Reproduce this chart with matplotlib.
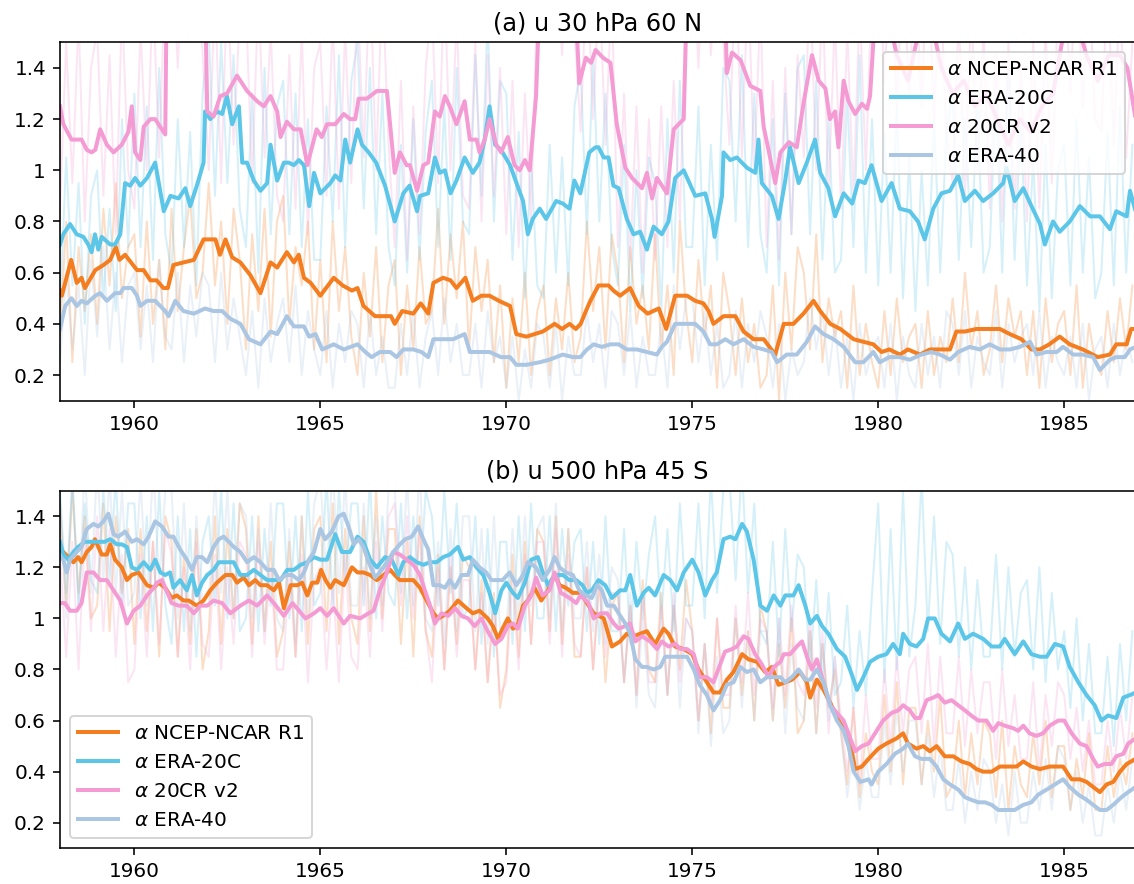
import numpy as np
import matplotlib
matplotlib.use('Agg')
import matplotlib.pyplot as plt
from matplotlib.ticker import StrMethodFormatter

# ---------------- smoothed series, (year, alpha)
a_ncep = [(1958.0, .53), (1958.05, .51), (1958.3, .65), (1958.45, .56), (1958.58, .58), (1958.67, .54),
          (1958.95, .61), (1959.17, .63), (1959.35, .65), (1959.5, .70), (1959.6, .65), (1959.75, .67),
          (1960.07, .61), (1960.25, .61), (1960.43, .57), (1960.6, .57), (1960.78, .54), (1960.9, .54),
          (1961.05, .63), (1961.32, .64), (1961.6, .65), (1961.86, .73), (1962.18, .73), (1962.3, .67),
          (1962.45, .73), (1962.63, .66), (1962.85, .64), (1963.12, .59), (1963.39, .52), (1963.66, .64),
          (1963.84, .62), (1964.1, .68), (1964.29, .64), (1964.42, .67), (1964.56, .58), (1964.74, .56),
          (1965.0, .51), (1965.36, .58), (1965.6, .55), (1965.85, .53), (1966.0, .54), (1966.16, .47),
          (1966.47, .43), (1966.9, .43), (1967.0, .40), (1967.2, .45), (1967.5, .44), (1967.7, .48),
          (1967.9, .44), (1968.04, .56), (1968.3, .58), (1968.5, .57), (1968.66, .54), (1968.9, .58),
          (1969.1, .49), (1969.33, .51), (1969.55, .51), (1969.8, .49), (1970.1, .47), (1970.27, .36),
          (1970.54, .35), (1970.98, .37), (1971.3, .40), (1971.5, .38), (1971.7, .40), (1971.87, .38),
          (1972.0, .40), (1972.14, .45), (1972.26, .49), (1972.48, .55), (1972.75, .55), (1972.88, .53),
          (1973.06, .51), (1973.33, .54), (1973.56, .47), (1973.8, .44), (1974.1, .46), (1974.3, .38),
          (1974.54, .51), (1974.86, .51), (1975.08, .49), (1975.3, .48), (1975.44, .45), (1975.57, .40),
          (1975.84, .43), (1976.16, .43), (1976.38, .37), (1976.65, .34), (1976.92, .34), (1977.23, .28),
          (1977.46, .40), (1977.72, .40), (1977.99, .44), (1978.26, .49), (1978.44, .45), (1978.71, .40),
          (1978.98, .38), (1979.34, .34), (1979.6, .33), (1979.87, .32), (1980.09, .29), (1980.3, .30),
          (1980.58, .28), (1980.8, .30), (1981.12, .28), (1981.39, .30), (1981.66, .30), (1981.93, .30),
          (1982.1, .37), (1982.33, .37), (1982.64, .38), (1983.0, .38), (1983.27, .38), (1983.54, .36),
          (1983.85, .34), (1984.12, .30), (1984.35, .30), (1984.6, .32), (1984.88, .35), (1985.15, .32),
          (1985.5, .30), (1985.9, .27), (1986.23, .28), (1986.4, .32), (1986.68, .32), (1986.8, .38),
          (1986.92, .38)]

a_era20c = [(1958.0, .71), (1958.09, .75), (1958.27, .79), (1958.45, .75), (1958.63, .74), (1958.76, .71),
            (1958.85, .68), (1958.94, .75), (1959.03, .69), (1959.12, .74), (1959.35, .71), (1959.48, .71),
            (1959.62, .75), (1959.75, .95), (1959.89, .94), (1960.02, .97), (1960.16, .94), (1960.34, .97),
            (1960.56, 1.03), (1960.79, .84), (1960.97, .90), (1961.19, .89), (1961.37, .93), (1961.5, .86),
            (1961.68, .94), (1961.86, 1.03), (1961.9, 1.23), (1962.04, 1.20), (1962.22, 1.23), (1962.36, 1.22),
            (1962.49, 1.29), (1962.63, 1.18), (1962.81, 1.25), (1962.9, 1.03), (1963.03, 1.03), (1963.21, .96),
            (1963.39, .92), (1963.57, .95), (1963.66, 1.10), (1963.84, .96), (1964.02, 1.03), (1964.15, 1.03),
            (1964.29, 1.02), (1964.42, 1.04), (1964.56, 1.02), (1964.7, .86), (1964.83, .99), (1965.0, .91),
            (1965.27, .95), (1965.4, .98), (1965.54, .96), (1965.67, 1.12), (1965.8, 1.03), (1966.0, 1.16),
            (1966.12, 1.10), (1966.3, 1.07), (1966.5, 1.03), (1966.74, .94), (1967.0, .80), (1967.23, .91),
            (1967.4, .94), (1967.6, .84), (1967.68, .90), (1967.9, .91), (1968.08, 1.05), (1968.21, .99),
            (1968.35, 1.00), (1968.5, .91), (1968.66, .96), (1968.88, 1.05), (1969.1, .99), (1969.28, 1.03),
            (1969.42, 1.12), (1969.55, 1.25), (1969.7, 1.10), (1969.86, 1.08), (1970.1, 1.02), (1970.3, .94),
            (1970.45, .88), (1970.58, .75), (1970.71, .81), (1970.9, .85), (1971.07, .81), (1971.34, .88),
            (1971.52, .87), (1971.7, .85), (1971.83, .96), (1971.99, .91), (1972.23, 1.07), (1972.4, 1.09),
            (1972.48, 1.09), (1972.62, 1.05), (1972.75, 1.05), (1972.88, .94), (1973.02, .93), (1973.24, .81),
            (1973.42, .75), (1973.6, .76), (1973.78, .69), (1973.96, .78), (1974.18, .75), (1974.36, .80),
            (1974.54, .97), (1974.77, 1.00), (1975.08, .90), (1975.35, .91), (1975.53, .81), (1975.6, .74),
            (1975.8, .90), (1975.84, 1.07), (1976.02, 1.04), (1976.2, 1.05), (1976.47, 1.01), (1976.7, .99),
            (1976.78, 1.12), (1976.87, .95), (1977.14, .90), (1977.32, .81), (1977.5, .96), (1977.63, 1.09),
            (1977.86, .95), (1978.08, 1.03), (1978.3, 1.12), (1978.44, .99), (1978.66, .93), (1978.84, .82),
            (1979.07, .91), (1979.3, .87), (1979.47, .96), (1979.64, .95), (1979.82, 1.02), (1980.09, .88),
            (1980.36, .95), (1980.58, .85), (1980.85, .84), (1981.07, .80), (1981.25, .73), (1981.48, .85),
            (1981.7, .91), (1981.93, .92), (1982.15, .98), (1982.33, .88), (1982.6, .92), (1982.82, .88),
            (1983.09, .91), (1983.36, .95), (1983.45, 1.01), (1983.67, .88), (1983.9, .93), (1984.12, .86),
            (1984.35, .79), (1984.48, .71), (1984.7, .80), (1984.88, .76), (1985.15, .80), (1985.42, .86),
            (1985.7, .82), (1985.96, .82), (1986.23, .77), (1986.4, .84), (1986.68, .82), (1986.77, .92),
            (1986.92, .84)]

a_20cr = [(1958.0, 1.25), (1958.09, 1.18), (1958.31, 1.12), (1958.58, 1.12), (1958.72, 1.08), (1958.85, 1.07),
          (1958.95, 1.08), (1959.08, 1.16), (1959.26, 1.10), (1959.44, 1.07), (1959.66, 1.10), (1959.84, 1.15),
          (1959.93, 1.25), (1960.02, 1.07), (1960.16, 1.04), (1960.25, 1.17), (1960.43, 1.20), (1960.56, 1.20),
          (1960.74, 1.16), (1960.83, 1.14), (1960.87, 1.70), (1961.2, 1.80), (1961.5, 1.75), (1961.9, 1.70),
          (1961.96, 1.23), (1962.13, 1.21), (1962.31, 1.29), (1962.49, 1.30), (1962.76, 1.37), (1963.03, 1.31),
          (1963.3, 1.27), (1963.48, 1.25), (1963.66, 1.29), (1963.84, 1.23), (1963.93, 1.13), (1964.1, 1.19),
          (1964.29, 1.16), (1964.47, 1.16), (1964.65, 1.02), (1964.9, 1.16), (1965.04, 1.13), (1965.18, 1.18),
          (1965.4, 1.18), (1965.63, 1.22), (1965.8, 1.20), (1965.94, 1.20), (1966.03, 1.28), (1966.25, 1.28),
          (1966.52, 1.31), (1966.79, 1.31), (1967.0, .99), (1967.14, 1.07), (1967.32, 1.02), (1967.41, 1.02),
          (1967.6, .92), (1967.77, 1.02), (1967.9, 1.03), (1968.08, 1.23), (1968.21, 1.21), (1968.35, 1.29),
          (1968.48, 1.25), (1968.66, 1.18), (1968.88, 1.27), (1969.02, 1.12), (1969.2, 1.12), (1969.28, 1.07),
          (1969.42, 1.12), (1969.55, 1.20), (1969.73, 1.10), (1969.86, 1.07), (1970.04, 1.13), (1970.22, 1.02),
          (1970.36, 1.00), (1970.5, 1.04), (1970.63, 1.00), (1970.8, 1.29), (1970.9, 1.70), (1971.3, 1.80),
          (1971.6, 1.70), (1971.88, 1.60), (1971.96, 1.34), (1972.14, 1.44), (1972.28, 1.42), (1972.4, 1.47),
          (1972.6, 1.44), (1972.8, 1.42), (1972.97, 1.18), (1973.2, 1.01), (1973.38, .97), (1973.65, .93),
          (1973.78, .99), (1973.92, .89), (1974.05, .97), (1974.32, .91), (1974.5, 1.16), (1974.77, 1.20),
          (1974.86, 1.70), (1975.2, 1.80), (1975.6, 1.70), (1975.89, 1.60), (1975.93, 1.38), (1976.07, 1.46),
          (1976.3, 1.43), (1976.56, 1.33), (1976.83, 1.31), (1976.92, 1.17), (1977.05, 1.08), (1977.23, .95),
          (1977.37, 1.07), (1977.6, 1.11), (1977.81, 1.09), (1978.0, 1.27), (1978.22, 1.45), (1978.4, 1.35),
          (1978.58, 1.32), (1978.7, 1.20), (1978.84, 1.23), (1978.93, 1.09), (1979.07, 1.35), (1979.2, 1.27),
          (1979.38, 1.22), (1979.56, 1.26), (1979.7, 1.24), (1979.78, 1.29), (1979.91, 1.60), (1980.2, 1.65),
          (1980.5, 1.45), (1980.8, 1.35), (1981.1, 1.55), (1981.4, 1.60), (1981.7, 1.40), (1982.0, 1.30),
          (1982.3, 1.35), (1982.6, 1.25), (1982.9, 1.30), (1983.2, 1.20), (1983.5, 1.10), (1983.8, 1.20),
          (1984.1, 1.15), (1984.4, 1.25), (1984.7, 1.30), (1985.0, 1.55), (1985.3, 1.60), (1985.6, 1.45),
          (1985.9, 1.35), (1986.2, 1.45), (1986.5, 1.45), (1986.7, 1.40), (1986.92, 1.20)]

a_era40 = [(1958.0, .38), (1958.14, .47), (1958.31, .50), (1958.45, .47), (1958.58, .49), (1958.72, .48),
           (1958.95, .51), (1959.08, .52), (1959.26, .49), (1959.48, .52), (1959.62, .52), (1959.71, .54),
           (1959.93, .54), (1960.07, .51), (1960.16, .47), (1960.34, .49), (1960.56, .49), (1960.83, .45),
           (1960.92, .43), (1961.1, .49), (1961.32, .45), (1961.6, .44), (1961.9, .46), (1962.13, .45),
           (1962.36, .45), (1962.58, .42), (1962.85, .40), (1963.08, .34), (1963.39, .32), (1963.66, .37),
           (1963.84, .36), (1964.1, .43), (1964.29, .39), (1964.56, .39), (1964.7, .35), (1964.87, .36),
           (1965.05, .30), (1965.36, .32), (1965.63, .30), (1966.0, .32), (1966.21, .29), (1966.38, .27),
           (1966.6, .29), (1966.88, .29), (1967.05, .27), (1967.23, .30), (1967.5, .30), (1967.72, .29),
           (1967.9, .27), (1968.04, .34), (1968.3, .34), (1968.57, .34), (1968.88, .36), (1969.02, .29),
           (1969.28, .29), (1969.55, .29), (1969.86, .27), (1970.1, .27), (1970.27, .24), (1970.54, .24),
           (1970.9, .25), (1971.16, .26), (1971.52, .28), (1971.79, .27), (1971.99, .27), (1972.17, .30),
           (1972.35, .32), (1972.57, .31), (1972.8, .32), (1973.02, .32), (1973.24, .30), (1973.51, .30),
           (1973.78, .29), (1974.05, .28), (1974.18, .31), (1974.32, .33), (1974.54, .40), (1974.77, .40),
           (1975.08, .40), (1975.3, .37), (1975.48, .32), (1975.66, .32), (1975.89, .34), (1976.11, .32),
           (1976.38, .34), (1976.65, .31), (1976.92, .30), (1977.14, .29), (1977.28, .25), (1977.54, .28),
           (1977.81, .28), (1978.08, .33), (1978.3, .39), (1978.53, .36), (1978.8, .34), (1979.07, .31),
           (1979.38, .25), (1979.6, .25), (1979.87, .29), (1980.04, .25), (1980.3, .27), (1980.58, .27),
           (1980.85, .26), (1981.16, .28), (1981.43, .29), (1981.66, .28), (1981.93, .26), (1982.15, .29),
           (1982.46, .31), (1982.73, .30), (1983.0, .32), (1983.27, .30), (1983.54, .30), (1983.81, .31),
           (1984.08, .33), (1984.26, .28), (1984.52, .29), (1984.8, .29), (1984.97, .31), (1985.24, .28),
           (1985.5, .28), (1985.78, .27), (1985.96, .22), (1986.23, .26), (1986.4, .27), (1986.63, .27),
           (1986.77, .30), (1986.92, .31)]

b_ncep = [(1958.0, 1.27), (1958.09, 1.26), (1958.22, 1.24), (1958.36, 1.22), (1958.49, 1.24), (1958.58, 1.22),
          (1958.72, 1.26), (1958.85, 1.28), (1958.94, 1.31), (1959.12, 1.25), (1959.26, 1.25), (1959.35, 1.29),
          (1959.48, 1.23), (1959.66, 1.20), (1959.8, 1.15), (1959.93, 1.17), (1960.11, 1.18), (1960.25, 1.15),
          (1960.34, 1.13), (1960.52, 1.12), (1960.65, 1.14), (1960.83, 1.12), (1961.0, 1.08), (1961.14, 1.09),
          (1961.32, 1.07), (1961.46, 1.07), (1961.68, 1.05), (1961.86, 1.07), (1962.04, 1.11), (1962.22, 1.14),
          (1962.45, 1.17), (1962.63, 1.17), (1962.76, 1.14), (1962.94, 1.16), (1963.08, 1.13), (1963.25, 1.15),
          (1963.39, 1.13), (1963.57, 1.13), (1963.75, 1.11), (1963.89, 1.14), (1964.02, 1.04), (1964.2, 1.13),
          (1964.38, 1.13), (1964.51, 1.14), (1964.65, 1.09), (1964.78, 1.14), (1964.92, 1.14), (1965.02, 1.19),
          (1965.14, 1.15), (1965.27, 1.12), (1965.4, 1.15), (1965.63, 1.13), (1965.85, 1.20), (1966.0, 1.18),
          (1966.16, 1.18), (1966.34, 1.17), (1966.52, 1.15), (1966.7, 1.17), (1966.88, 1.19), (1967.0, 1.17),
          (1967.14, 1.15), (1967.32, 1.15), (1967.5, 1.15), (1967.68, 1.12), (1967.86, 1.07), (1968.04, 1.02),
          (1968.17, 1.00), (1968.3, 1.01), (1968.48, 1.03), (1968.7, 1.07), (1968.93, 1.04), (1969.1, 1.02),
          (1969.28, 1.03), (1969.5, 1.00), (1969.64, .97), (1969.78, .92), (1969.9, .96), (1970.04, 1.00),
          (1970.18, .96), (1970.3, .97), (1970.45, 1.05), (1970.58, 1.07), (1970.76, 1.12), (1970.94, 1.07),
          (1971.12, 1.11), (1971.3, 1.17), (1971.43, 1.13), (1971.6, 1.12), (1971.79, 1.10), (1971.99, 1.10),
          (1972.17, 1.06), (1972.35, 1.02), (1972.62, 1.00), (1972.84, .89), (1973.06, .91), (1973.24, .94),
          (1973.42, .93), (1973.6, .94), (1973.78, .95), (1974.0, .90), (1974.23, .96), (1974.36, .94),
          (1974.54, .89), (1974.77, .88), (1975.0, .86), (1975.17, .80), (1975.35, .76), (1975.57, .71),
          (1975.75, .71), (1975.93, .76), (1976.11, .79), (1976.34, .86), (1976.51, .84), (1976.74, .83),
          (1976.96, .79), (1977.14, .81), (1977.32, .74), (1977.5, .75), (1977.68, .76), (1977.9, .79),
          (1978.08, .75), (1978.17, .69), (1978.35, .76), (1978.53, .72), (1978.71, .67), (1978.93, .60),
          (1979.16, .55), (1979.3, .47), (1979.38, .41), (1979.56, .42), (1979.74, .45), (1980.0, .49),
          (1980.22, .51), (1980.49, .53), (1980.67, .55), (1980.8, .51), (1981.03, .49), (1981.21, .50),
          (1981.39, .48), (1981.57, .50), (1981.79, .46), (1982.02, .46), (1982.24, .44), (1982.46, .43),
          (1982.64, .41), (1982.82, .40), (1983.05, .40), (1983.27, .42), (1983.54, .42), (1983.72, .42),
          (1983.9, .44), (1984.12, .42), (1984.35, .41), (1984.61, .42), (1984.97, .42), (1985.2, .37),
          (1985.42, .37), (1985.6, .36), (1985.78, .34), (1985.96, .32), (1986.14, .35), (1986.32, .36),
          (1986.5, .40), (1986.68, .43), (1986.92, .45)]

b_era20c = [(1958.0, 1.30), (1958.09, 1.25), (1958.22, 1.23), (1958.36, 1.26), (1958.49, 1.28), (1958.67, 1.30),
            (1958.85, 1.30), (1959.03, 1.30), (1959.2, 1.30), (1959.35, 1.31), (1959.53, 1.29), (1959.66, 1.29),
            (1959.8, 1.28), (1959.93, 1.20), (1960.07, 1.19), (1960.25, 1.22), (1960.43, 1.19), (1960.56, 1.23),
            (1960.7, 1.18), (1960.83, 1.17), (1960.96, 1.18), (1961.05, 1.12), (1961.23, 1.15), (1961.41, 1.11),
            (1961.55, 1.17), (1961.68, 1.09), (1961.82, 1.14), (1961.96, 1.17), (1962.13, 1.19), (1962.27, 1.22),
            (1962.45, 1.22), (1962.67, 1.22), (1962.85, 1.17), (1963.03, 1.17), (1963.21, 1.19), (1963.39, 1.17),
            (1963.57, 1.15), (1963.75, 1.15), (1963.93, 1.15), (1964.11, 1.19), (1964.29, 1.19), (1964.47, 1.21),
            (1964.65, 1.22), (1964.83, 1.24), (1965.0, 1.23), (1965.18, 1.23), (1965.4, 1.33), (1965.58, 1.26),
            (1965.8, 1.26), (1966.0, 1.32), (1966.16, 1.30), (1966.34, 1.23), (1966.52, 1.20), (1966.74, 1.24),
            (1966.92, 1.23), (1967.1, 1.17), (1967.23, 1.22), (1967.41, 1.24), (1967.59, 1.22), (1967.77, 1.21),
            (1967.95, 1.22), (1968.13, 1.22), (1968.3, 1.24), (1968.48, 1.25), (1968.7, 1.28), (1968.84, 1.23),
            (1969.02, 1.24), (1969.2, 1.20), (1969.38, 1.17), (1969.55, 1.10), (1969.7, 1.02), (1969.87, 1.11),
            (1970.0, 1.14), (1970.18, 1.10), (1970.31, 1.08), (1970.5, 1.14), (1970.67, 1.23), (1970.85, 1.24),
            (1970.98, 1.18), (1971.12, 1.13), (1971.3, 1.17), (1971.52, 1.17), (1971.7, 1.15), (1971.88, 1.15),
            (1972.05, 1.13), (1972.17, 1.10), (1972.3, 1.11), (1972.48, 1.15), (1972.66, 1.13), (1972.84, 1.08),
            (1973.06, 1.11), (1973.2, 1.11), (1973.33, 1.17), (1973.51, 1.05), (1973.69, 1.10), (1973.83, 1.12),
            (1974.0, 1.09), (1974.23, 1.17), (1974.41, 1.15), (1974.59, 1.11), (1974.77, 1.18), (1975.0, 1.23),
            (1975.17, 1.18), (1975.35, 1.09), (1975.53, 1.15), (1975.66, 1.18), (1975.84, 1.31), (1976.02, 1.32),
            (1976.16, 1.31), (1976.34, 1.37), (1976.47, 1.34), (1976.65, 1.23), (1976.83, 1.05), (1977.01, 1.03),
            (1977.19, 1.09), (1977.37, 1.05), (1977.5, 1.09), (1977.72, 1.09), (1977.86, 1.13), (1978.04, 1.05),
            (1978.17, .98), (1978.35, 1.01), (1978.49, .97), (1978.66, .94), (1978.89, .88), (1979.11, .85),
            (1979.29, .78), (1979.43, .72), (1979.6, .77), (1979.78, .83), (1980.0, .85), (1980.22, .86),
            (1980.4, .90), (1980.58, .86), (1980.67, .94), (1980.85, .90), (1981.03, .89), (1981.21, .92),
            (1981.34, 1.00), (1981.52, 1.00), (1981.7, .94), (1981.93, .91), (1982.15, .98), (1982.33, .92),
            (1982.55, .94), (1982.82, .92), (1983.05, .89), (1983.27, .89), (1983.4, .92), (1983.67, .86),
            (1983.9, .91), (1984.12, .86), (1984.35, .85), (1984.53, .85), (1984.75, .90), (1984.97, .89),
            (1985.15, .81), (1985.38, .75), (1985.6, .70), (1985.82, .66), (1986.0, .60), (1986.18, .62),
            (1986.4, .61), (1986.59, .69), (1986.77, .70), (1986.92, .71)]

b_20cr = [(1958.0, 1.06), (1958.13, 1.06), (1958.27, 1.03), (1958.45, 1.03), (1958.58, 1.06), (1958.72, 1.18),
          (1958.9, 1.18), (1959.08, 1.15), (1959.26, 1.15), (1959.44, 1.11), (1959.62, 1.07), (1959.8, .98),
          (1959.98, 1.03), (1960.16, 1.05), (1960.34, 1.09), (1960.52, 1.12), (1960.61, 1.14), (1960.74, 1.15),
          (1960.92, 1.09), (1961.0, 1.06), (1961.19, 1.05), (1961.41, 1.05), (1961.6, 1.02), (1961.77, 1.05),
          (1961.96, 1.05), (1962.13, 1.07), (1962.36, 1.06), (1962.58, 1.02), (1962.85, 1.05), (1963.08, 1.07),
          (1963.3, 1.05), (1963.57, 1.09), (1963.75, 1.06), (1964.02, 1.01), (1964.25, 1.06), (1964.43, 1.03),
          (1964.6, 1.00), (1964.83, 1.02), (1965.0, 1.04), (1965.18, 1.01), (1965.36, 1.04), (1965.63, .98),
          (1965.8, 1.01), (1966.07, 1.00), (1966.3, 1.02), (1966.43, 1.03), (1966.6, 1.11), (1966.79, 1.18),
          (1966.96, 1.26), (1967.14, 1.25), (1967.32, 1.23), (1967.5, 1.21), (1967.68, 1.17), (1967.81, 1.11),
          (1967.95, 1.05), (1968.08, .98), (1968.26, 1.02), (1968.44, 1.01), (1968.62, 1.04), (1968.8, 1.01),
          (1968.97, 1.00), (1969.15, .97), (1969.33, 1.00), (1969.5, .95), (1969.7, .90), (1969.87, .92),
          (1970.04, .97), (1970.18, .98), (1970.31, .96), (1970.5, 1.05), (1970.67, 1.09), (1970.8, 1.16),
          (1970.98, 1.09), (1971.16, 1.11), (1971.3, 1.18), (1971.47, 1.10), (1971.7, 1.08), (1971.88, 1.06),
          (1971.99, 1.09), (1972.21, 1.06), (1972.35, 1.00), (1972.53, 1.02), (1972.71, 1.02), (1972.89, .98),
          (1973.02, .96), (1973.2, .97), (1973.33, .98), (1973.47, .91), (1973.65, .93), (1973.87, .91),
          (1974.05, .88), (1974.18, .91), (1974.36, .89), (1974.54, .90), (1974.68, .88), (1974.86, .88),
          (1975.04, .86), (1975.2, .77), (1975.39, .77), (1975.57, .75), (1975.7, .80), (1975.88, .87),
          (1976.07, .88), (1976.2, .89), (1976.38, .93), (1976.51, .92), (1976.69, .86), (1976.87, .82),
          (1977.05, .77), (1977.19, .81), (1977.37, .83), (1977.46, .86), (1977.63, .86), (1977.81, .89),
          (1977.95, .91), (1978.13, .83), (1978.22, .80), (1978.35, .84), (1978.53, .75), (1978.71, .66),
          (1978.89, .63), (1979.07, .60), (1979.2, .55), (1979.38, .48), (1979.56, .50), (1979.74, .51),
          (1980.0, .57), (1980.13, .60), (1980.36, .63), (1980.54, .64), (1980.67, .66), (1980.85, .64),
          (1980.99, .61), (1981.12, .61), (1981.3, .68), (1981.48, .69), (1981.61, .70), (1981.79, .67),
          (1981.97, .68), (1982.15, .66), (1982.33, .64), (1982.5, .62), (1982.69, .60), (1982.91, .60),
          (1983.09, .56), (1983.23, .59), (1983.4, .58), (1983.63, .57), (1983.76, .56), (1983.9, .58),
          (1984.07, .55), (1984.25, .54), (1984.43, .55), (1984.61, .58), (1984.84, .60), (1985.0, .60),
          (1985.2, .55), (1985.42, .51), (1985.6, .50), (1985.78, .45), (1985.9, .42), (1986.09, .43),
          (1986.27, .43), (1986.4, .46), (1986.59, .47), (1986.72, .51), (1986.92, .53)]

b_era40 = [(1958.0, 1.24), (1958.09, 1.23), (1958.18, 1.18), (1958.27, 1.23), (1958.45, 1.26), (1958.58, 1.28),
           (1958.72, 1.35), (1958.9, 1.37), (1959.03, 1.36), (1959.17, 1.38), (1959.3, 1.41), (1959.44, 1.33),
           (1959.57, 1.32), (1959.75, 1.34), (1959.93, 1.30), (1960.07, 1.31), (1960.25, 1.29), (1960.38, 1.32),
           (1960.56, 1.38), (1960.74, 1.36), (1960.92, 1.32), (1961.05, 1.32), (1961.23, 1.27), (1961.41, 1.23),
           (1961.55, 1.19), (1961.68, 1.24), (1961.82, 1.24), (1961.96, 1.22), (1962.13, 1.28), (1962.27, 1.31),
           (1962.4, 1.32), (1962.54, 1.30), (1962.67, 1.28), (1962.85, 1.26), (1963.03, 1.22), (1963.21, 1.24),
           (1963.39, 1.22), (1963.57, 1.19), (1963.75, 1.19), (1963.89, 1.15), (1964.07, 1.17), (1964.24, 1.17),
           (1964.42, 1.15), (1964.56, 1.18), (1964.69, 1.23), (1964.83, 1.26), (1965.0, 1.35), (1965.13, 1.31),
           (1965.31, 1.34), (1965.49, 1.40), (1965.63, 1.41), (1965.76, 1.36), (1965.9, 1.29), (1966.03, 1.31),
           (1966.16, 1.28), (1966.3, 1.22), (1966.47, 1.16), (1966.6, 1.18), (1966.79, 1.22), (1966.96, 1.26),
           (1967.14, 1.29), (1967.28, 1.31), (1967.46, 1.32), (1967.63, 1.36), (1967.77, 1.31), (1967.9, 1.27),
           (1968.04, 1.13), (1968.21, 1.13), (1968.35, 1.12), (1968.48, 1.15), (1968.62, 1.12), (1968.8, 1.17),
           (1968.97, 1.17), (1969.1, 1.23), (1969.28, 1.20), (1969.46, 1.18), (1969.6, 1.15), (1969.78, 1.15),
           (1969.9, 1.15), (1970.09, 1.18), (1970.27, 1.13), (1970.45, 1.17), (1970.58, 1.22), (1970.8, 1.20),
           (1970.98, 1.15), (1971.16, 1.19), (1971.3, 1.24), (1971.43, 1.20), (1971.6, 1.18), (1971.79, 1.17),
           (1971.96, 1.11), (1972.14, 1.09), (1972.3, 1.08), (1972.44, 1.13), (1972.57, 1.11), (1972.71, 1.05),
           (1972.89, 1.05), (1973.02, 1.02), (1973.2, .98), (1973.33, .94), (1973.47, .84), (1973.65, .81),
           (1973.78, .81), (1973.96, .80), (1974.14, .81), (1974.27, .85), (1974.45, .85), (1974.68, .85),
           (1974.86, .85), (1975.04, .80), (1975.2, .74), (1975.39, .70), (1975.57, .64), (1975.75, .68),
           (1975.93, .74), (1976.11, .75), (1976.29, .81), (1976.47, .79), (1976.65, .80), (1976.83, .75),
           (1977.01, .77), (1977.19, .77), (1977.37, .77), (1977.5, .75), (1977.68, .77), (1977.86, .80),
           (1978.04, .76), (1978.17, .76), (1978.35, .80), (1978.53, .75), (1978.71, .66), (1978.89, .60),
           (1979.07, .56), (1979.2, .50), (1979.34, .40), (1979.52, .36), (1979.74, .37), (1979.82, .35),
           (1980.0, .40), (1980.22, .43), (1980.45, .47), (1980.67, .49), (1980.8, .51), (1980.99, .46),
           (1981.16, .45), (1981.39, .45), (1981.57, .42), (1981.75, .37), (1981.93, .35), (1982.15, .33),
           (1982.33, .30), (1982.5, .29), (1982.69, .28), (1982.87, .28), (1983.05, .27), (1983.23, .25),
           (1983.45, .25), (1983.67, .25), (1983.9, .27), (1984.12, .28), (1984.3, .31), (1984.53, .33),
           (1984.75, .35), (1984.97, .37), (1985.15, .34), (1985.38, .31), (1985.6, .29), (1985.78, .27),
           (1985.96, .25), (1986.14, .25), (1986.32, .27), (1986.54, .30), (1986.72, .32), (1986.92, .34)]

# ---------------- raw values (faint lines), 6 readings per year from 1958
a_ncep_raw = [.35, .80, .25, .70, .45, .75, .40, .85, .55, .95, .50, .70, .75, .35, .80, .40, .65, .30,
              .85, .45, .70, .90, .50, .60, .95, .55, .80, .40, .85, .65, .30, .75, .45, .85, .35, .80,
              .90, .40, .70, .55, .80, .30, .65, .25, .80, .45, .70, .35, .20, .60, .35, .70, .25, .55,
              .65, .20, .55, .30, .70, .40, .45, .85, .40, .75, .50, .80, .30, .70, .45, .65, .25, .55,
              .15, .50, .25, .60, .20, .45, .55, .20, .50, .30, .60, .25, .35, .80, .45, .70, .30, .75,
              .60, .25, .70, .40, .55, .30, .75, .30, .55, .20, .80, .45, .25, .65, .35, .55, .15, .60,
              .45, .20, .50, .25, .40, .15, .20, .55, .10, .60, .30, .70, .60, .30, .75, .25, .50, .35,
              .45, .15, .55, .20, .40, .25, .15, .45, .20, .50, .25, .35, .40, .15, .45, .20, .35, .25,
              .50, .25, .60, .30, .45, .20, .30, .55, .25, .50, .35, .45, .20, .45, .15, .50, .25, .40,
              .45, .20, .55, .15, .40, .25, .20, .45, .25, .50, .30, .55]
a_era20c_raw = [.45, 1.05, .55, .95, .40, .90, 1.00, .50, .85, .45, 1.20, .70, 1.30, .70, 1.25, .65, 1.40, .75,
                .60, 1.20, .70, 1.15, .55, 1.30, 1.55, .90, 1.50, .95, 1.45, .85, .70, 1.30, .60, 1.40, .75, 1.25,
                1.35, .75, 1.30, .70, 1.20, .65, .65, 1.25, .80, 1.45, .70, 1.35, 1.50, .85, 1.40, .75, 1.30, .70,
                .55, 1.10, .60, 1.20, .65, 1.15, 1.35, .70, 1.25, .65, 1.40, .80, .75, 1.45, .90, 1.60, .80, 1.35,
                1.30, .65, 1.15, .50, 1.05, .55, .50, 1.10, .60, 1.05, .55, 1.25, 1.40, .75, 1.45, .80, 1.30, .70,
                .55, 1.10, .45, 1.00, .50, 1.05, .95, .45, 1.20, .60, 1.35, .70, .70, 1.25, .55, 1.10, .65, 1.40,
                1.35, .80, 1.45, .70, 1.30, .75, .60, 1.20, .55, 1.30, .75, 1.40, 1.45, .75, 1.35, .65, 1.20, .60,
                .65, 1.30, .70, 1.45, .60, 1.20, .55, 1.15, .60, 1.25, .50, 1.05, .45, 1.00, .55, 1.20, .60, 1.15,
                1.30, .65, 1.20, .70, 1.25, .60, .70, 1.30, .60, 1.40, .65, 1.20, .55, 1.05, .45, 1.10, .50, 1.00,
                1.10, .55, 1.20, .60, 1.05, .50, .60, 1.15, .55, 1.25, .60, 1.10]
a_20cr_raw = [.85, 1.50, .95, 1.60, .80, 1.40, 1.55, .90, 1.45, .75, 1.65, 1.00, .85, 1.55, 1.00, 1.70, 1.05, 1.80,
              1.90, 1.40, 1.95, 1.50, 1.85, 1.45, 1.00, 1.70, .95, 1.75, 1.10, 1.60, 1.65, .95, 1.70, 1.05, 1.55, .90,
              .80, 1.45, .85, 1.55, .75, 1.40, 1.50, .90, 1.60, .85, 1.55, .95, 1.70, 1.05, 1.80, 1.00, 1.75, 1.10,
              .70, 1.35, .65, 1.25, .75, 1.40, 1.65, .95, 1.75, 1.00, 1.60, .90, .85, 1.50, .80, 1.45, .90, 1.40,
              .75, 1.35, .70, 1.30, .80, 1.70, 1.95, 1.50, 1.90, 1.45, 2.00, 1.55, 1.15, 1.80, 1.20, 1.75, 1.10, 1.70,
              .70, 1.30, .65, 1.25, .60, 1.20, .65, 1.25, .70, 1.35, .80, 1.70, 1.90, 1.40, 1.95, 1.45, 1.85, 1.50,
              1.10, 1.80, 1.05, 1.75, 1.00, 1.65, .70, 1.35, .65, 1.40, .75, 1.45, 1.05, 1.75, 1.00, 1.70, .90, 1.60,
              .85, 1.55, .90, 1.65, 1.00, 1.75, 1.90, 1.35, 1.85, 1.25, 1.80, 1.30, 1.80, 1.25, 1.90, 1.20, 1.75, 1.15,
              .95, 1.60, .90, 1.65, 1.00, 1.55, .85, 1.45, .80, 1.50, .85, 1.40, .80, 1.50, .85, 1.55, .95, 1.65,
              1.80, 1.30, 1.85, 1.25, 1.75, 1.20, 1.15, 1.75, 1.10, 1.70, 1.05, 1.50]
a_era40_raw = [.25, .60, .30, .55, .20, .65, .35, .70, .30, .60, .25, .55, .60, .30, .55, .25, .65, .35,
               .30, .60, .25, .55, .35, .60, .55, .25, .60, .30, .50, .35, .20, .45, .15, .50, .25, .40,
               .50, .25, .55, .20, .45, .30, .20, .45, .15, .40, .25, .45, .40, .15, .45, .20, .35, .15,
               .15, .40, .20, .45, .15, .35, .45, .20, .50, .25, .40, .20, .20, .40, .15, .45, .25, .35,
               .15, .35, .10, .30, .15, .40, .35, .15, .40, .10, .35, .20, .20, .45, .25, .40, .15, .45,
               .40, .20, .45, .15, .35, .20, .20, .40, .15, .55, .30, .50, .50, .25, .45, .20, .40, .15,
               .20, .45, .15, .40, .25, .45, .35, .15, .40, .10, .30, .20, .25, .50, .30, .45, .20, .40,
               .15, .35, .10, .40, .20, .30, .35, .15, .40, .10, .35, .20, .15, .40, .20, .35, .15, .45,
               .40, .20, .45, .15, .35, .25, .20, .45, .15, .40, .25, .35, .40, .20, .45, .15, .35, .25,
               .20, .35, .15, .40, .10, .30, .35, .15, .40, .20, .35, .25]

b_ncep_raw = [1.45, 1.05, 1.50, 1.10, 1.40, 1.00, 1.05, 1.45, .95, 1.40, 1.10, 1.35, .90, 1.35, .95, 1.30, .85, 1.40,
              1.30, .85, 1.25, .90, 1.35, .80, .95, 1.40, .90, 1.35, 1.00, 1.45, 1.35, .90, 1.40, .95, 1.30, .85,
              .95, 1.30, .85, 1.40, .90, 1.35, 1.40, .95, 1.45, .90, 1.35, 1.00, .90, 1.40, .95, 1.50, 1.00, 1.35,
              1.35, .90, 1.30, .85, 1.40, .95, .85, 1.25, .80, 1.20, .90, 1.25, 1.20, .80, 1.15, .75, 1.10, .65,
              .80, 1.25, .85, 1.30, .90, 1.35, 1.30, .95, 1.40, .90, 1.35, .85, .85, 1.20, .80, 1.15, .75, 1.05,
              1.10, .75, 1.05, .70, 1.15, .80, .75, 1.10, .70, 1.05, .80, 1.15, .95, .60, .90, .55, 1.00, .65,
              .65, 1.00, .70, .95, .60, 1.05, .95, .60, .90, .65, 1.00, .55, .60, .95, .55, .90, .65, .80,
              .55, .35, .65, .30, .55, .40, .35, .70, .40, .75, .35, .65, .65, .35, .60, .40, .70, .30,
              .35, .60, .30, .55, .35, .60, .55, .30, .60, .25, .50, .35, .30, .55, .35, .60, .30, .50,
              .50, .25, .45, .30, .55, .25, .25, .50, .30, .45, .35, .55]
b_era20c_raw = [1.50, 1.10, 1.55, 1.05, 1.45, 1.15, 1.10, 1.50, 1.15, 1.55, 1.05, 1.45, 1.45, 1.00, 1.40, .95, 1.50, 1.05,
                .90, 1.40, .95, 1.35, .85, 1.30, 1.40, 1.05, 1.50, 1.00, 1.45, .95, 1.00, 1.40, .95, 1.35, 1.05, 1.45,
                1.45, 1.00, 1.40, .95, 1.50, 1.05, 1.10, 1.55, 1.05, 1.50, 1.15, 1.45, 1.45, 1.05, 1.55, 1.00, 1.40, 1.10,
                1.05, 1.45, 1.00, 1.40, 1.10, 1.50, 1.40, 1.05, 1.50, 1.10, 1.45, 1.00, 1.05, 1.40, .90, 1.35, .85, 1.30,
                1.30, .90, 1.40, .95, 1.45, 1.00, 1.00, 1.40, .95, 1.35, 1.05, 1.30, 1.35, .95, 1.30, .90, 1.40, .95,
                .95, 1.35, .90, 1.30, 1.00, 1.25, 1.40, 1.00, 1.35, .95, 1.45, 1.05, 1.05, 1.45, 1.00, 1.55, 1.10, 1.50,
                1.55, 1.15, 1.60, 1.10, 1.45, .95, .90, 1.30, .85, 1.35, .95, 1.25, 1.20, .80, 1.15, .75, 1.10, .70,
                .75, 1.05, .65, .95, .70, 1.10, 1.45, .75, 1.35, .80, 1.50, .85, 1.05, 1.55, .95, 1.40, .90, 1.30,
                1.25, .85, 1.20, .80, 1.15, .85, .85, 1.25, .80, 1.20, .85, 1.10, 1.15, .80, 1.20, .75, 1.10, .80,
                .95, .65, 1.00, .60, .90, .55, .55, .85, .50, .90, .60, .95]
b_20cr_raw = [1.25, .85, 1.30, .80, 1.35, .95, 1.40, .95, 1.35, .85, 1.25, .75, .80, 1.25, .85, 1.30, .90, 1.35,
              1.25, .85, 1.20, .80, 1.30, .90, .85, 1.25, .80, 1.20, .90, 1.30, 1.25, .85, 1.30, .90, 1.20, .80,
              .80, 1.20, .85, 1.25, .75, 1.15, 1.20, .80, 1.15, .75, 1.25, .85, .80, 1.20, .85, 1.30, .95, 1.40,
              1.45, 1.05, 1.40, 1.00, 1.35, .95, .75, 1.20, .80, 1.25, .85, 1.15, 1.15, .80, 1.10, .75, 1.05, .70,
              .75, 1.15, .80, 1.25, .90, 1.30, 1.30, .90, 1.35, .85, 1.25, .90, .85, 1.20, .80, 1.15, .85, 1.10,
              1.10, .75, 1.05, .70, 1.10, .75, .75, 1.05, .70, 1.10, .75, 1.00, .95, .60, .90, .65, 1.00, .70,
              .70, 1.05, .75, 1.10, .70, 1.00, .95, .65, 1.00, .70, 1.05, .75, .70, 1.00, .65, .95, .55, .85,
              .60, .40, .65, .35, .70, .45, .45, .80, .50, .85, .55, .80, .85, .55, .90, .50, .85, .55,
              .55, .85, .50, .80, .55, .75, .75, .45, .80, .50, .70, .45, .45, .75, .40, .70, .50, .75,
              .70, .45, .65, .40, .60, .35, .35, .60, .40, .65, .45, .70]
b_era40_raw = [1.45, 1.00, 1.55, 1.05, 1.60, 1.10, 1.60, 1.15, 1.55, 1.10, 1.50, 1.05, 1.10, 1.55, 1.05, 1.60, 1.15, 1.50,
               1.50, 1.00, 1.45, .95, 1.40, 1.05, 1.05, 1.55, 1.10, 1.50, 1.00, 1.45, 1.40, 1.00, 1.35, .95, 1.45, 1.00,
               .95, 1.35, .90, 1.40, 1.00, 1.45, 1.55, 1.15, 1.60, 1.10, 1.55, 1.05, 1.05, 1.45, 1.00, 1.40, 1.05, 1.50,
               1.50, 1.10, 1.55, 1.05, 1.60, 1.00, .95, 1.30, .90, 1.35, .95, 1.40, 1.40, .95, 1.35, .90, 1.40, .95,
               .95, 1.35, 1.00, 1.40, 1.05, 1.35, 1.40, 1.00, 1.45, .95, 1.35, 1.00, 1.00, 1.30, .95, 1.25, .90, 1.20,
               1.15, .75, 1.10, .65, 1.00, .70, .65, 1.00, .70, 1.05, .65, 1.00, .95, .55, .90, .50, .85, .55,
               .60, 1.00, .65, .95, .60, .95, .95, .60, 1.00, .55, .90, .65, .60, .95, .55, .90, .60, .85,
               .55, .30, .50, .25, .45, .30, .30, .60, .35, .65, .40, .60, .60, .35, .55, .30, .50, .25,
               .25, .45, .20, .40, .25, .45, .40, .20, .35, .15, .40, .20, .20, .40, .25, .45, .25, .50,
               .45, .25, .40, .20, .35, .15, .15, .35, .20, .40, .25, .45]

t_raw = 1958 + np.arange(len(a_ncep_raw)) / 6.0

names = ['NCEP-NCAR R1', 'ERA-20C', '20CR v2', 'ERA-40']
colors = ['#f47d20', '#5cc6e8', '#f59bd3', '#abc6e2']


def draw_panel(ax, smooth, raw, title, loc):
    for r, c in zip(raw, colors):
        ax.plot(t_raw, r, color=c, lw=1, alpha=0.25)
    for s, c, n in zip(smooth, colors, names):
        t, v = np.array(s).T
        ax.plot(t, v, color=c, lw=2, label=r'$\alpha$ ' + n)
    ax.set_xlim(1958, 1986 + 11 / 12)
    ax.set_ylim(0.1, 1.5)
    ax.set_yticks(np.arange(0.2, 1.41, 0.2))
    ax.yaxis.set_major_formatter(StrMethodFormatter('{x:g}'))
    ax.set_xticks([1960, 1965, 1970, 1975, 1980, 1985])
    ax.set_title(title)
    ax.legend(loc=loc)


fig = plt.figure(figsize=(1134 / 144, 884 / 144), dpi=144)
ax1 = fig.add_axes([0.0529, 0.5468, 0.9484, 0.4053])
ax2 = fig.add_axes([0.0529, 0.0404, 0.9484, 0.4045])

draw_panel(ax1, [a_ncep, a_era20c, a_20cr, a_era40],
           [a_ncep_raw, a_era20c_raw, a_20cr_raw, a_era40_raw],
           '(a) u 30 hPa 60 N', 'upper right')
draw_panel(ax2, [b_ncep, b_era20c, b_20cr, b_era40],
           [b_ncep_raw, b_era20c_raw, b_20cr_raw, b_era40_raw],
           '(b) u 500 hPa 45 S', 'lower left')

fig.savefig('out.png', dpi=144)
